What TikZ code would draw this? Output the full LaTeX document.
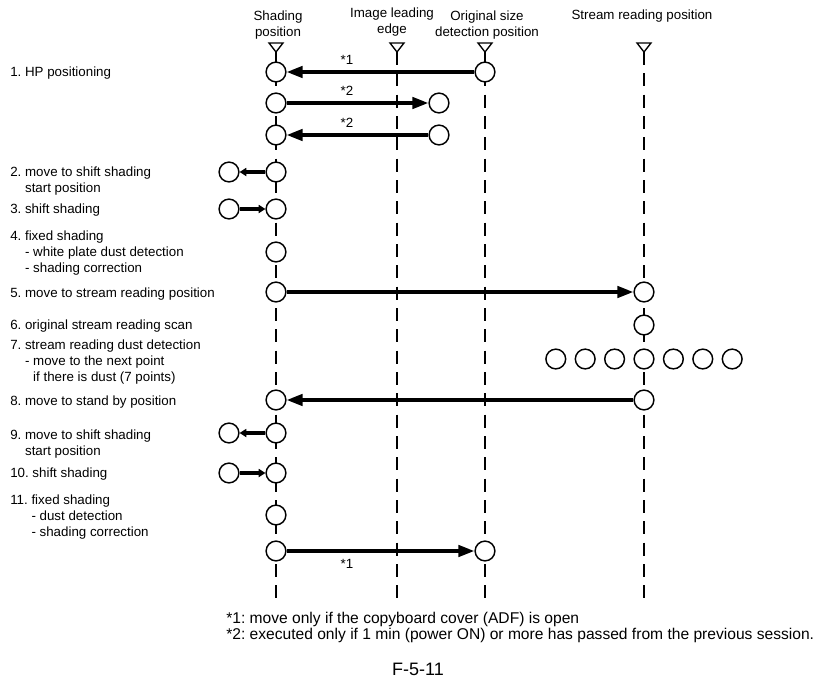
\documentclass[tikz,border=0pt]{standalone}
\usepackage{fontspec}
\setmainfont{Liberation Sans}
\frenchspacing
\usetikzlibrary{positioning}
\usetikzlibrary{arrows.meta}

\begin{document}
\begin{tikzpicture}
 [ x=0.75pt
 , y=-0.75pt
 , every node/.style={font=\fontsize{10}{12}\selectfont, inner sep=0pt}
 , spot/.style={circle, draw, fill=white, line width=1.1pt, minimum size=14.8pt}
 , track/.style={line width=1pt, dash pattern=on 9.75pt off 6.25pt}
 , marker/.style={line width=1pt, line join=miter}
 , move/.style={line width=2.6pt, -{Triangle[length=12pt, width=8.5pt]}}
 , nudge/.style={line width=2.4pt, -{Triangle[length=5pt, width=6pt]}}
 , task/.style={anchor=base west, align=left}
 , colhead/.style={anchor=base, align=center}
 , starnote/.style={anchor=base}
 , footnote/.style={anchor=base west, font=\fontsize{11.7}{14}\selectfont}
 ]
  \useasboundingbox (0,0) rectangle (829,682);

  % position lines, each with its marker on top
  \foreach \name/\x in {shade/276, lead/397, orig/485, stream/644}
  {
    \coordinate (\name tip) at (\x,52);
    \coordinate (\name end) at (\x,599);
    \draw [marker] (\name tip) -- ++(-7,-9) -- ++(14,0) -- cycle;
    \draw [track] (\name tip) -- (\name end);
  }

  % (multi-line nodes sit on the baseline of their last line)
  \node [colhead] (shadehead)  at (278,36.5) {Shading\\position};
  \node [colhead] (leadhead)   at (392,33.5) {Image leading\\edge};
  \node [colhead] (orighead)   at (487,36.5) {Original size\\detection position};
  \node [colhead] (streamhead) at (642,19.5) {Stream reading position};

  % 1. HP positioning
  \node [spot] (hp1)  at (276,72)  {};
  \node [spot] (hp1o) at (485,72)  {};
  \draw [move] (hp1o) -- (hp1);
  \node [starnote] (hp1note) at (347,64) {*1};
  \node [spot] (hp2)  at (276,103) {};
  \node [spot] (hp2e) at (439,103) {};
  \draw [move] (hp2) -- (hp2e);
  \node [starnote] (hp2note) at (347,95) {*2};
  \node [spot] (hp3)  at (276,135) {};
  \node [spot] (hp3e) at (439,135) {};
  \draw [move] (hp3e) -- (hp3);
  \node [starnote] (hp3note) at (347,127.5) {*2};

  % 2.-4. shift shading and fixed shading
  \node [spot] (sh1)  at (276,172) {};
  \node [spot] (sh1l) at (229,172) {};
  \draw [nudge] (sh1) -- (sh1l);
  \node [spot] (sh2)  at (276,209) {};
  \node [spot] (sh2l) at (229,209) {};
  \draw [nudge] (sh2l) -- (sh2);
  \node [spot] (fix1) at (276,252) {};

  % 5.-8. stream reading
  \node [spot] (go)    at (276,292) {};
  \node [spot] (scan1) at (644,292) {};
  \draw [move] (go) -- (scan1);
  \node [spot] (scan2) at (644,325) {};
  \foreach \i in {-3,...,3}
    \node [spot] (dust\i) at (644+29.4*\i,359) {};
  \node [spot] (back)  at (276,400) {};
  \node [spot] (scan3) at (644,400) {};
  \draw [move] (scan3) -- (back);

  % 9.-11. shift shading and fixed shading again
  \node [spot] (sh3)  at (276,433) {};
  \node [spot] (sh3l) at (229,433) {};
  \draw [nudge] (sh3) -- (sh3l);
  \node [spot] (sh4)  at (276,473) {};
  \node [spot] (sh4l) at (229,473) {};
  \draw [nudge] (sh4l) -- (sh4);
  \node [spot] (fix2) at (276,515) {};
  \node [spot] (last)  at (276,551) {};
  \node [spot] (lasto) at (485,551) {};
  \draw [move] (last) -- (lasto);
  \node [starnote] (lastnote) at (347,568) {*1};

  % step list
  \node [task] (t1)  at (10,76.5)  {1. HP positioning};
  \node [task] (t2)  at (10,192.5) {2. move to shift shading\\\phantom{2. }start position};
  \node [task] (t3)  at (10,213.5) {3. shift shading};
  \node [task] (t4)  at (10,272.5) {4. fixed shading\\\phantom{4. }- white plate dust detection\\\phantom{4. }- shading correction};
  \node [task] (t5)  at (10,297.5) {5. move to stream reading position};
  \node [task] (t6)  at (10,329.5) {6. original stream reading scan};
  \node [task] (t7)  at (10,381.5) {7. stream reading dust detection\\\phantom{7. }- move to the next point\\\phantom{7. - }if there is dust (7 points)};
  \node [task] (t8)  at (10,405.5) {8. move to stand by position};
  \node [task] (t9)  at (10,455.5) {9. move to shift shading\\\phantom{9. }start position};
  \node [task] (t10) at (10,477.5) {10. shift shading};
  \node [task] (t11) at (10,536.5) {11. fixed shading\\\phantom{11. }- dust detection\\\phantom{11. }- shading correction};

  % notes
  \node [footnote] (note1) at (226,623.5) {*1: move only if the copyboard cover (ADF) is open};
  \node [footnote] (note2) at (226,639.5) {*2: executed only if 1 min (power ON) or more has passed from the previous session.};
  \node [anchor=base, font=\fontsize{13.5}{16}\selectfont] (fig) at (418,675.5) {F-5-11};
\end{tikzpicture}
\end{document}
